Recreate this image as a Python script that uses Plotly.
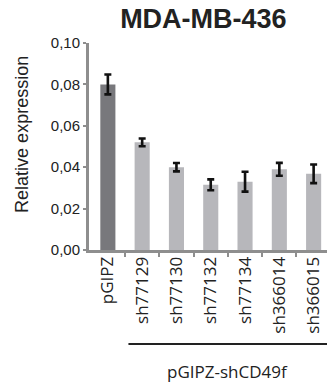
import plotly.graph_objects as go

categories = ["pGIPZ", "sh77129", "sh77130", "sh77132", "sh77134", "sh366014", "sh366015"]
values = [0.080, 0.052, 0.040, 0.0315, 0.033, 0.039, 0.0368]
errors = [0.0048, 0.0019, 0.0020, 0.0026, 0.0048, 0.0031, 0.0045]
bar_colors = ["#78787c", "#b7b7bb", "#b7b7bb", "#b7b7bb", "#b7b7bb", "#b7b7bb", "#b7b7bb"]
y_ticks = [0.0, 0.02, 0.04, 0.06, 0.08, 0.10]
y_tick_text = ["0,00", "0,02", "0,04", "0,06", "0,08", "0,10"]
title_text = "MDA-MB-436"
y_title = "Relative expression"
group_label = "pGIPZ-shCD49f"

xpos = list(range(len(categories)))
boundaries = [i + 0.5 for i in xpos[:-1]]

fig = go.Figure()
fig.add_trace(go.Bar(
    x=xpos, y=values, width=0.44,
    marker=dict(color=bar_colors, line=dict(width=0)),
    error_y=dict(type="data", array=errors, visible=True, color="#111111",
                 thickness=2.6, width=3.5),
    showlegend=False,
))

axis_gray = "#8e8e8e"
label_font = dict(family="Open Sans", size=17, color="#222222")

fig.update_layout(
    width=327, height=385,
    margin=dict(l=89, r=0, t=43, b=135),
    plot_bgcolor="white", paper_bgcolor="white",
    title=dict(text="<b>" + title_text + "</b>", x=0.622, xref="container", xanchor="center",
               y=1 - 18.5 / 385, yref="container", yanchor="middle", automargin=False,
               font=dict(family="Liberation Sans", size=27, color="#222222")),
    xaxis=dict(
        range=[-0.55, 6.39], tickvals=xpos, ticktext=categories, tickangle=-90,
        ticks="", showgrid=False, zeroline=False, automargin=False,
        showline=True, linecolor=axis_gray, linewidth=3, ticklabelstandoff=-3,
        tickfont=label_font,
        minor=dict(tickvals=boundaries, ticks="outside", ticklen=4,
                   tickwidth=2, tickcolor=axis_gray, showgrid=False),
    ),
    yaxis=dict(
        range=[0, 0.10], tickvals=y_ticks, ticktext=y_tick_text,
        ticks="outside", ticklen=3, tickwidth=2, tickcolor=axis_gray,
        showgrid=False, zeroline=False, automargin=False,
        showline=True, linecolor=axis_gray, linewidth=3,
        tickfont=dict(family="Liberation Sans", size=15, color="#222222"),
    ),
)

fig.add_annotation(text=y_title, xref="paper", yref="paper", x=-0.2815, y=0.556,
                   textangle=-90, showarrow=False, xanchor="center", yanchor="middle",
                   font=dict(family="Liberation Sans", size=18, color="#222222"))
fig.add_shape(type="line", xref="x", yref="paper", x0=0.6, x1=6.39,
              y0=-0.454, y1=-0.454, line=dict(color="#222222", width=2))
fig.add_annotation(text=group_label, xref="paper", yref="paper", x=0.584, y=-0.589,
                   showarrow=False, xanchor="center", yanchor="middle",
                   font=label_font)

fig.write_html("out.html", config={"displayModeBar": False},
               post_script="document.body.style.margin='0';")
